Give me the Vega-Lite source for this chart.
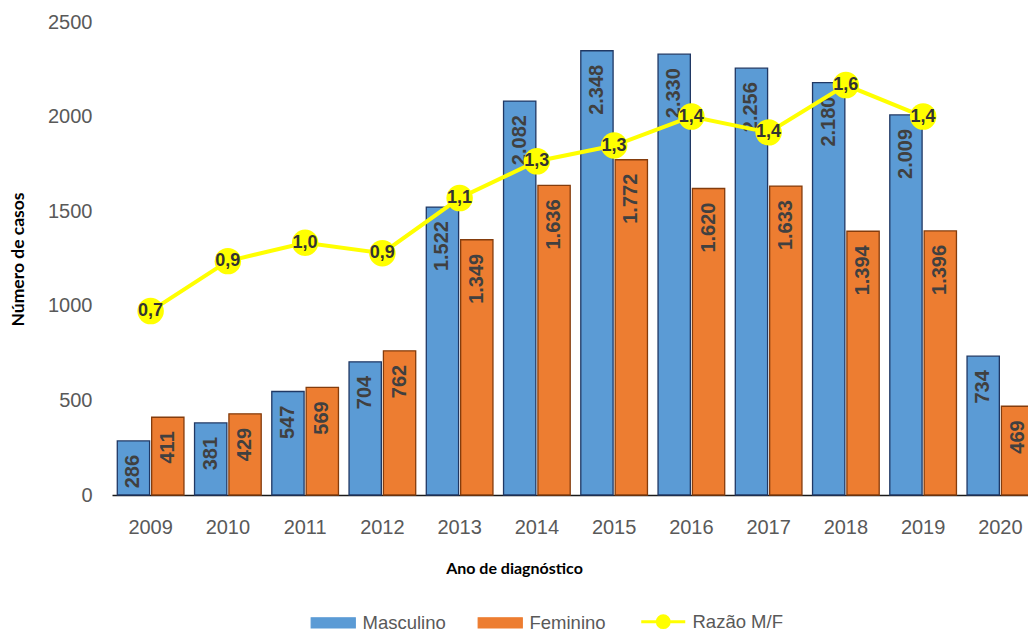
{
  "$schema": "https://vega.github.io/schema/vega-lite/v6.json",
  "width": 927,
  "height": 473,
  "autosize": {"type": "none"},
  "padding": {"left": 112, "top": 22, "right": -11, "bottom": 138},
  "background": "white",
  "config": {
    "locale": {"number": {"decimal": ",", "thousands": ".", "grouping": [3], "currency": ["R$", ""]}},
    "view": {"stroke": null},
    "font": "Liberation Sans"
  },
  "datasets": {
    "casos": [
      {"ano": "2009", "sexo": "Masculino", "casos": 286},
      {"ano": "2009", "sexo": "Feminino", "casos": 411},
      {"ano": "2010", "sexo": "Masculino", "casos": 381},
      {"ano": "2010", "sexo": "Feminino", "casos": 429},
      {"ano": "2011", "sexo": "Masculino", "casos": 547},
      {"ano": "2011", "sexo": "Feminino", "casos": 569},
      {"ano": "2012", "sexo": "Masculino", "casos": 704},
      {"ano": "2012", "sexo": "Feminino", "casos": 762},
      {"ano": "2013", "sexo": "Masculino", "casos": 1522},
      {"ano": "2013", "sexo": "Feminino", "casos": 1349},
      {"ano": "2014", "sexo": "Masculino", "casos": 2082},
      {"ano": "2014", "sexo": "Feminino", "casos": 1636},
      {"ano": "2015", "sexo": "Masculino", "casos": 2348},
      {"ano": "2015", "sexo": "Feminino", "casos": 1772},
      {"ano": "2016", "sexo": "Masculino", "casos": 2330},
      {"ano": "2016", "sexo": "Feminino", "casos": 1620},
      {"ano": "2017", "sexo": "Masculino", "casos": 2256},
      {"ano": "2017", "sexo": "Feminino", "casos": 1633},
      {"ano": "2018", "sexo": "Masculino", "casos": 2180},
      {"ano": "2018", "sexo": "Feminino", "casos": 1394},
      {"ano": "2019", "sexo": "Masculino", "casos": 2009},
      {"ano": "2019", "sexo": "Feminino", "casos": 1396},
      {"ano": "2020", "sexo": "Masculino", "casos": 734},
      {"ano": "2020", "sexo": "Feminino", "casos": 469}
    ],
    "razao": [
      {"ano": "2009", "razao": 0.70},
      {"ano": "2010", "razao": 0.89},
      {"ano": "2011", "razao": 0.96},
      {"ano": "2012", "razao": 0.92},
      {"ano": "2013", "razao": 1.13},
      {"ano": "2014", "razao": 1.27},
      {"ano": "2015", "razao": 1.33},
      {"ano": "2016", "razao": 1.44},
      {"ano": "2017", "razao": 1.38},
      {"ano": "2018", "razao": 1.56},
      {"ano": "2019", "razao": 1.44}
    ]
  },
  "layer": [
    {
      "data": {"name": "casos"},
      "encoding": {
        "x": {
          "field": "ano", "type": "nominal",
          "scale": {"paddingInner": 0.137, "paddingOuter": 0.0685},
          "axis": {
            "title": "Ano de diagnóstico",
            "titleFont": "Lato", "titleFontSize": 16, "titleFontWeight": "bold", "titleColor": "#000000",
            "titleX": 402, "titleY": 73, "titleAlign": "center", "titleBaseline": "middle",
            "labelFontSize": 20, "labelColor": "#595959", "labelPadding": 22, "labelAngle": 0,
            "ticks": false, "domainColor": "#1a1a1a", "domainWidth": 1.5, "grid": false
          }
        },
        "xOffset": {"field": "sexo", "type": "nominal", "sort": ["Masculino", "Feminino"], "scale": {"paddingInner": 0.06, "paddingOuter": 0}},
        "y": {
          "field": "casos", "type": "quantitative",
          "scale": {"domain": [0, 2500]},
          "axis": {
            "title": "Número de casos",
            "titleFont": "Lato", "titleFontSize": 17.5, "titleFontWeight": "bold", "titleColor": "#000000",
            "titleX": -94, "titleY": 237, "titleAngle": 270, "titleAlign": "center", "titleBaseline": "middle",
            "labelFontSize": 20, "labelColor": "#595959", "labelPadding": 20,
            "ticks": false, "domain": false, "grid": false,
            "values": [0, 500, 1000, 1500, 2000, 2500], "format": "d"
          }
        }
      },
      "layer": [
        {
          "mark": {"type": "bar", "strokeWidth": 1.3},
          "encoding": {
            "color": {
              "field": "sexo", "type": "nominal",
              "scale": {"domain": ["Masculino", "Feminino", "Razão M/F"], "range": ["#5B9BD5", "#ED7D31", "#FFFF00"]},
              "legend": {
                "orient": "none", "legendX": 212, "legendY": 590,
                "direction": "horizontal", "title": null, "padding": 0,
                "symbolSize": 1936, "labelFontSize": 18.5, "labelColor": "#595959",
                "labelOffset": 20, "columnPadding": 29,
                "encode": {
                  "symbols": {
                    "update": {
                      "shape": {"signal": "datum.value === 'Razão M/F' ? 'M-1,0H1M-0.27,0A0.27,0.27 0 1 0 0.27,0A0.27,0.27 0 1 0 -0.27,0Z' : 'M-1,-0.23H1V0.23H-1Z'"},
                      "stroke": {"signal": "datum.value === 'Masculino' ? '#203864' : datum.value === 'Feminino' ? '#843C0C' : '#FFFF00'"},
                      "fill": {"signal": "datum.value === 'Masculino' ? '#5B9BD5' : datum.value === 'Feminino' ? '#ED7D31' : '#FFFF00'"},
                      "strokeWidth": {"signal": "datum.value === 'Razão M/F' ? 3 : 1.3"},
                      "fillOpacity": {"value": 1},
                      "strokeOpacity": {"value": 1},
                      "opacity": {"value": 1}
                    }
                  }
                }
              }
            },
            "stroke": {
              "field": "sexo", "type": "nominal",
              "scale": {"domain": ["Masculino", "Feminino"], "range": ["#203864", "#843C0C"]},
              "legend": null
            }
          }
        },
        {
          "mark": {"type": "text", "angle": 270, "align": "right", "baseline": "middle", "dx": -14, "fontSize": 20, "fontWeight": "bold", "color": "#404040"},
          "encoding": {"text": {"field": "casos", "type": "quantitative", "format": ",d"}}
        }
      ]
    },
    {
      "data": {"name": "razao"},
      "encoding": {
        "x": {"field": "ano", "type": "nominal"},
        "y": {"field": "razao", "type": "quantitative", "scale": {"domain": [0, 1.8]}, "axis": null}
      },
      "layer": [
        {"mark": {"type": "line", "strokeWidth": 4}, "encoding": {"color": {"datum": "Razão M/F"}}},
        {"mark": {"type": "circle", "size": 700, "opacity": 1}, "encoding": {"color": {"datum": "Razão M/F"}}},
        {
          "mark": {"type": "text", "fontSize": 18, "fontWeight": "bold", "color": "#333333", "baseline": "middle"},
          "encoding": {"text": {"field": "razao", "type": "quantitative", "format": ".1f"}}
        }
      ]
    }
  ],
  "resolve": {"scale": {"y": "independent"}}
}
